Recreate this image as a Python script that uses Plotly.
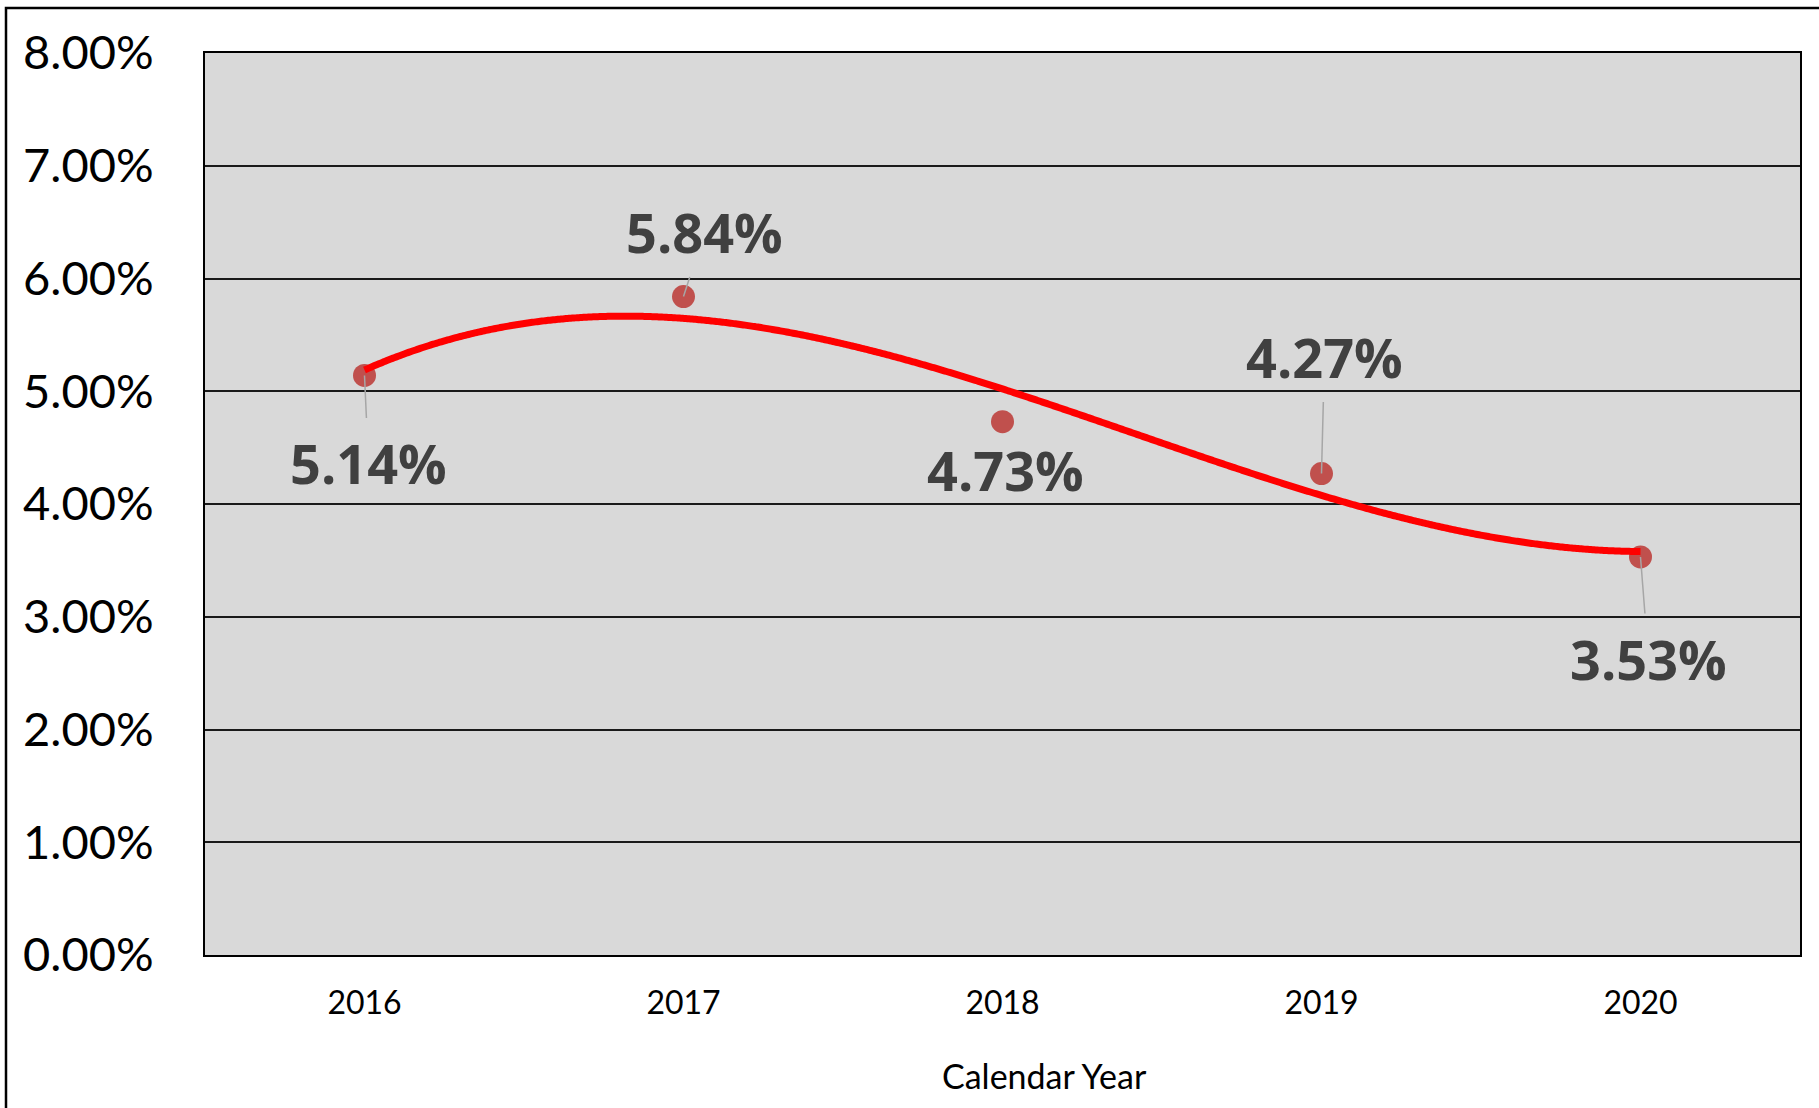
import numpy as np
import plotly.graph_objects as go

# ---- data ----
years = ["2016", "2017", "2018", "2019", "2020"]
rates = [0.0514, 0.0584, 0.0473, 0.0427, 0.0353]
rate_labels = ["5.14%", "5.84%", "4.73%", "4.27%", "3.53%"]
y_ticks = [0.00, 0.01, 0.02, 0.03, 0.04, 0.05, 0.06, 0.07, 0.08]
x_title = "Calendar Year"

# ---- styling ----
label_offsets = [(4, 88), (21, -65), (3, 48), (3, -117), (8, 102)]
show_leader = [True, True, False, True, True]
FONT = "Lato, 'Open Sans', 'Noto Sans', sans-serif"
BOLD_FONT = "'Open Sans', 'Noto Sans', sans-serif"

W, H = 1819, 1108
L, R, T, B = 205, 19, 53, 153
pw, ph = W - L - R, H - T - B

xi = np.arange(len(years))
# 3rd-order polynomial trendline fitted to the data (as in the source chart)
coef = np.polyfit(xi, rates, 3)
xt = np.linspace(xi[0], xi[-1], 400)
yt = np.polyval(coef, xt)

fig = go.Figure()
fig.add_trace(go.Scatter(
    x=xi, y=rates, mode="markers",
    marker=dict(size=23, color="#C0504D", line=dict(width=0)),
    hoverinfo="skip", showlegend=False,
))
fig.add_trace(go.Scatter(
    x=xt, y=yt, mode="lines",
    line=dict(color="#FF0000", width=7, shape="spline"),
    hoverinfo="skip", showlegend=False,
))

for i, (lab, (ax, ay), lead) in enumerate(zip(rate_labels, label_offsets, show_leader)):
    fig.add_annotation(
        x=xi[i], y=rates[i], text=lab,
        showarrow=True, ax=ax, ay=ay, arrowhead=0, arrowwidth=1.5,
        arrowcolor="#A6A6A6" if lead else "rgba(0,0,0,0)",
        standoff=0, borderpad=8,
        font=dict(family=BOLD_FONT, size=54, color="#404040", weight="bold"),
    )

fig.add_annotation(
    x=(1044 - L) / pw, y=(H - B - 1075) / ph, xref="paper", yref="paper",
    text=x_title, showarrow=False, xanchor="center", yanchor="middle",
    font=dict(family=FONT, size=34, color="#000000"),
)

# outer chart border (only top and left edges fall inside the picture)
fig.add_shape(
    type="rect", xref="paper", yref="paper",
    x0=(6 - L) / pw, x1=(W + 15 - L) / pw,
    y0=(H - B - (H + 15)) / ph, y1=(H - B - 8) / ph,
    line=dict(color="#000000", width=2.5), fillcolor="rgba(0,0,0,0)",
    layer="above",
)

fig.update_layout(
    width=W, height=H,
    margin=dict(l=L, r=R, t=T, b=B),
    paper_bgcolor="#FFFFFF", plot_bgcolor="#D9D9D9",
    font=dict(family=FONT, color="#000000"),
    showlegend=False,
)
fig.update_xaxes(
    range=[-0.5, len(years) - 0.5],
    tickvals=list(xi), ticktext=years,
    showgrid=False, zeroline=False,
    showline=True, mirror=True, linecolor="#000000", linewidth=2,
    ticks="outside", ticklen=19, tickcolor="rgba(0,0,0,0)",
    tickfont=dict(family=FONT, size=32, color="#000000"),
)
fig.update_yaxes(
    range=[0, 0.08], tickvals=y_ticks, tickformat=".2%",
    showgrid=True, gridcolor="#1a1a1a", gridwidth=2,
    zeroline=False,
    showline=True, mirror=True, linecolor="#000000", linewidth=2,
    ticks="outside", ticklen=40, tickcolor="rgba(0,0,0,0)",
    tickfont=dict(family=FONT, size=47, color="#000000"),
)

fig.write_html(
    "out.html",
    config={"displayModeBar": False},
    post_script="document.body.style.margin='0';document.body.style.overflow='hidden';",
)
